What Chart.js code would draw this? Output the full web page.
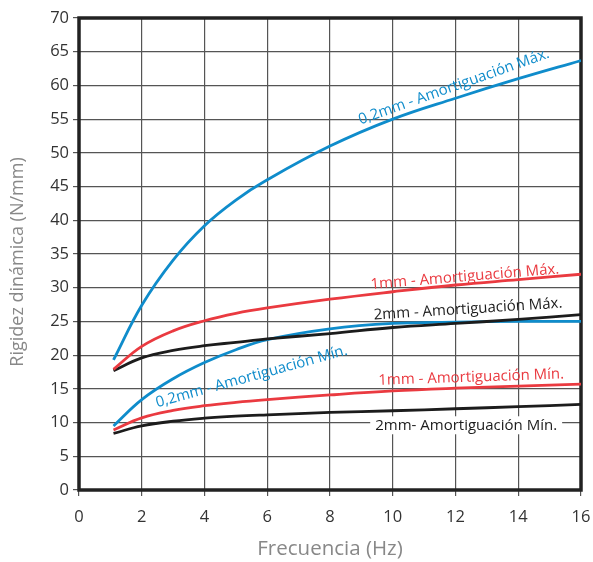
<!DOCTYPE html>
<html lang="es">
<head>
<meta charset="UTF-8">
<title>Rigidez dinámica</title>
<script src="https://cdn.jsdelivr.net/npm/chart.js@4"></script>
<style>
  html, body { margin: 0; padding: 0; background: #fff; }
  #wrap { width: 593px; height: 562px; }
</style>
</head>
<body>
<div id="wrap"><canvas id="chart" width="593" height="562"></canvas></div>
<script>
// frecuencias (Hz)
const freq = [1.1, 2, 3, 4, 5, 6, 8, 10, 12, 14, 16];

// rigidez dinámica (N/mm)
const blueMax = [19.3, 27.4, 34.1, 39.2, 43.0, 46.0, 51.0, 55.0, 58.1, 61.0, 63.7];
const redMax = [17.9, 21.3, 23.6, 25.1, 26.2, 27.0, 28.3, 29.4, 30.4, 31.2, 32.0];
const blackMax = [17.7, 19.6, 20.7, 21.4, 21.9, 22.4, 23.2, 24.1, 24.7, 25.3, 26.0];
const blueMin = [9.5, 13.4, 16.5, 18.9, 20.8, 22.3, 23.9, 24.7, 24.9, 25.0, 25.0];
const redMin = [8.9, 10.7, 11.8, 12.5, 13.0, 13.4, 14.1, 14.7, 15.1, 15.4, 15.7];
const blackMin = [8.4, 9.5, 10.2, 10.65, 10.95, 11.15, 11.5, 11.75, 12.05, 12.35, 12.7];

const xTicks = [0, 2, 4, 6, 8, 10, 12, 14, 16];
const yTicks = [0, 5, 10, 15, 20, 25, 30, 35, 40, 45, 50, 55, 60, 65, 70];

const BLUE = "#0f8ccb";
const RED = "#ea3a40";
const BLACK = "#1c1c1c";
const FONT = "'Open Sans', sans-serif";

function pts(ys) {
  return freq.map((x, i) => ({ x: x, y: ys[i] }));
}

function serie(label, ys, color) {
  return {
    label: label,
    data: pts(ys),
    borderColor: color,
    backgroundColor: color,
    borderWidth: 2.8,
    pointRadius: 0,
    showLine: true,
    fill: false,
    tension: 0.4,
  };
}

// etiquetas sobre las curvas (ancla en unidades de datos)
const curveLabels = [
  { text: "0,2mm - Amortiguación Máx.", x: 11.95, y: 59.8, angle: -19.5, color: BLUE },
  { text: "1mm - Amortiguación Máx.", x: 12.3, y: 31.6, angle: -4.7, color: RED },
  { text: "2mm - Amortiguación Máx.", x: 12.4, y: 26.8, angle: -3.6, color: BLACK },
  { text: "0,2mm - Amortiguación Mín.", x: 5.5, y: 16.8, angle: -15.5, color: BLUE },
  { text: "1mm - Amortiguación Mín.", x: 12.5, y: 16.7, angle: -2, color: RED },
  { text: "2mm- Amortiguación Mín.", x: 12.34, y: 9.6, angle: 0, color: BLACK, box: true },
];

const frameAndLabels = {
  id: "frameAndLabels",
  beforeDatasetsDraw(chart) {
    const { ctx, chartArea } = chart;
    ctx.save();
    ctx.strokeStyle = "#222";
    ctx.lineWidth = 3.5;
    ctx.strokeRect(chartArea.left, chartArea.top, chartArea.right - chartArea.left, chartArea.bottom - chartArea.top);
    // título del eje Y
    ctx.translate(18, (chartArea.top + chartArea.bottom) / 2 + 8);
    ctx.rotate(-Math.PI / 2);
    ctx.font = "18px " + FONT;
    ctx.fillStyle = "#888";
    ctx.textAlign = "center";
    ctx.textBaseline = "middle";
    ctx.fillText("Rigidez dinámica (N/mm)", 0, 0);
    ctx.restore();
  },
  afterDatasetsDraw(chart) {
    const { ctx, scales } = chart;
    ctx.save();
    ctx.font = "15px " + FONT;
    ctx.textAlign = "center";
    ctx.textBaseline = "middle";
    curveLabels.forEach((l) => {
      const px = scales.x.getPixelForValue(l.x);
      const py = scales.y.getPixelForValue(l.y);
      ctx.save();
      ctx.translate(px, py);
      ctx.rotate((l.angle * Math.PI) / 180);
      if (l.box) {
        const w = ctx.measureText(l.text).width;
        ctx.fillStyle = "#fff";
        ctx.fillRect(-w / 2 - 5, -9, w + 10, 18);
      }
      ctx.fillStyle = l.color;
      ctx.fillText(l.text, 0, 0);
      ctx.restore();
    });
    ctx.restore();
  },
};

const chart = new Chart(document.getElementById("chart"), {
  type: "scatter",
  data: {
    datasets: [
      serie("0,2mm - Amortiguación Máx.", blueMax, BLUE),
      serie("1mm - Amortiguación Máx.", redMax, RED),
      serie("2mm - Amortiguación Máx.", blackMax, BLACK),
      serie("0,2mm - Amortiguación Mín.", blueMin, BLUE),
      serie("1mm - Amortiguación Mín.", redMin, RED),
      serie("2mm- Amortiguación Mín.", blackMin, BLACK),
    ],
  },
  options: {
    responsive: false,
    animation: false,
    layout: {
      padding: { left: 0, right: 12, top: 18, bottom: 0 },
    },
    plugins: {
      legend: { display: false },
      tooltip: { enabled: false },
    },
    scales: {
      x: {
        type: "linear",
        min: 0,
        max: 16,
        afterBuildTicks: (s) => { s.ticks = xTicks.map((v) => ({ value: v })); },
        afterFit: (s) => {
          s.height = 72;
          s.paddingLeft = 0;
          s.paddingRight = 0;
        },
        grid: { color: "#555", lineWidth: 1.2, tickLength: 6, drawTicks: true },
        border: { display: false },
        ticks: {
          color: "#333",
          font: { family: FONT, size: 16.5 },
          padding: 11,
          maxRotation: 0,
        },
        title: {
          display: true,
          text: "Frecuencia (Hz)",
          color: "#888",
          font: { family: FONT, size: 20.5 },
          padding: { top: 0, bottom: 1 },
        },
      },
      y: {
        type: "linear",
        min: 0,
        max: 70,
        afterBuildTicks: (s) => { s.ticks = yTicks.map((v) => ({ value: v })); },
        afterFit: (s) => {
          s.width = 79;
          s.paddingTop = 0;
          s.paddingBottom = 0;
        },
        grid: { color: "#555", lineWidth: 1.2, tickLength: 6, drawTicks: true },
        border: { display: false },
        ticks: {
          color: "#333",
          font: { family: FONT, size: 16.5 },
          padding: 4,
        },
        title: { display: false },
      },
    },
  },
  plugins: [frameAndLabels],
});
</script>
</body>
</html>
